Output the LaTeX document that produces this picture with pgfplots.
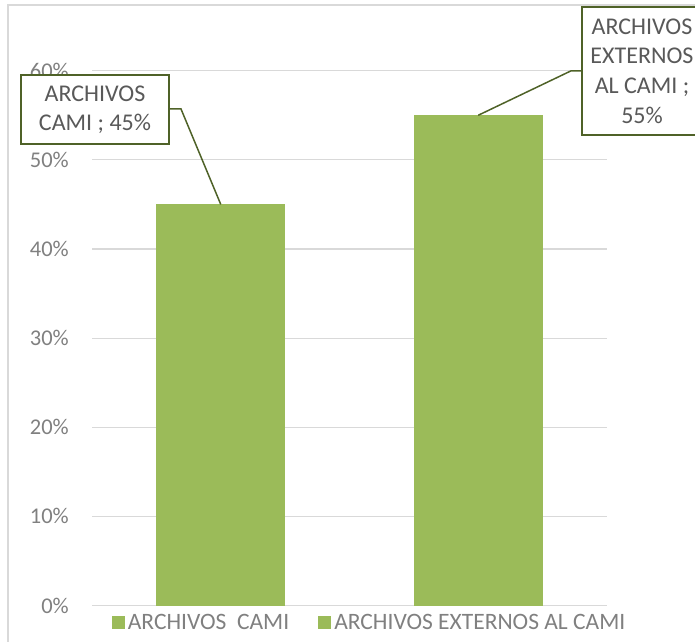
\documentclass[border=0pt]{standalone}
\usepackage{fontspec}
\setmainfont{Carlito}
\usepackage{pgfplots}
\pgfplotsset{compat=1.18}
\definecolor{bargreen}{HTML}{9BBB59}
\definecolor{darkgreen}{HTML}{4F6228}
\definecolor{gridgray}{HTML}{D9D9D9}
\definecolor{ticktext}{HTML}{808080}
\definecolor{labeltext}{HTML}{595959}
\begin{document}
\begin{tikzpicture}[x=1pt,y=1pt]
\useasboundingbox (0,0) rectangle (695,641);
\begin{scope}
\clip (0,0) rectangle (695,641);
\draw[gridgray, line width=1.2pt] (8,-10) -- (8,636) -- (710,636);
\begin{axis}[
  at={(92pt,35.5pt)}, anchor=south west,
  scale only axis, width=515pt, height=534.8pt,
  xmin=-0.5, xmax=1.5, ymin=0, ymax=60,
  axis line style={draw=none},
  xtick=\empty,
  ytick={0,10,...,60},
  yticklabel={\pgfmathparse{int(\tick)}\pgfmathresult\%},
  yticklabel style={font=\fontsize{22.5}{27}\selectfont, text=ticktext, inner sep=0pt, xshift=-23pt},
  ytick style={draw=none},
  ymajorgrids, grid style={gridgray, line width=1.1pt},
  ybar, bar width=129pt,
  clip=false,
  legend columns=2,
  legend style={at={(0.54,-0.0327)}, anchor=center, draw=none, fill=none,
    font=\fontsize{23.5}{27}\selectfont, text=ticktext, inner sep=0pt,
    nodes={inner xsep=3pt, inner ysep=0pt},
    /tikz/every even column/.append style={column sep=26pt}},
  legend cell align=left,
  legend image code/.code={\fill[#1] (0pt,-6.5pt) rectangle (13pt,6.5pt);},
]
\draw[gridgray, line width=1.1pt] (axis cs:-0.5,0) -- (axis cs:1.5,0);
\addplot[fill=bargreen, draw=none, bar shift=0pt] coordinates {(0,45)};
\addlegendentry{ARCHIVOS\ \ CAMI}
\addplot[fill=bargreen, draw=none, bar shift=0pt] coordinates {(1,55)};
\addlegendentry{ARCHIVOS EXTERNOS AL CAMI}
\coordinate (t1) at (axis cs:0,45);
\coordinate (t2) at (axis cs:1,55);
\end{axis}
\draw[darkgreen, line width=1.5pt] (169,532) -- (181,532) -- (t1);
\draw[darkgreen, line width=1.5pt] (582,570) -- (570.7,570) -- (t2);
\node[draw=darkgreen, line width=1.5pt, fill=white, minimum width=148pt, minimum height=69pt,
  text=labeltext, align=center, font=\fontsize{24}{29}\selectfont, inner sep=0pt]
  at (95,531.5) {ARCHIVOS\\CAMI ; 45\%};
\node[draw=darkgreen, line width=1.5pt, fill=white, minimum width=120pt, minimum height=128pt,
  text=labeltext, align=center, font=\fontsize{24}{29.6}\selectfont, inner sep=0pt]
  at (642,570) {ARCHIVOS\\EXTERNOS\\AL CAMI ;\\55\%};
\end{scope}
\end{tikzpicture}
\end{document}
